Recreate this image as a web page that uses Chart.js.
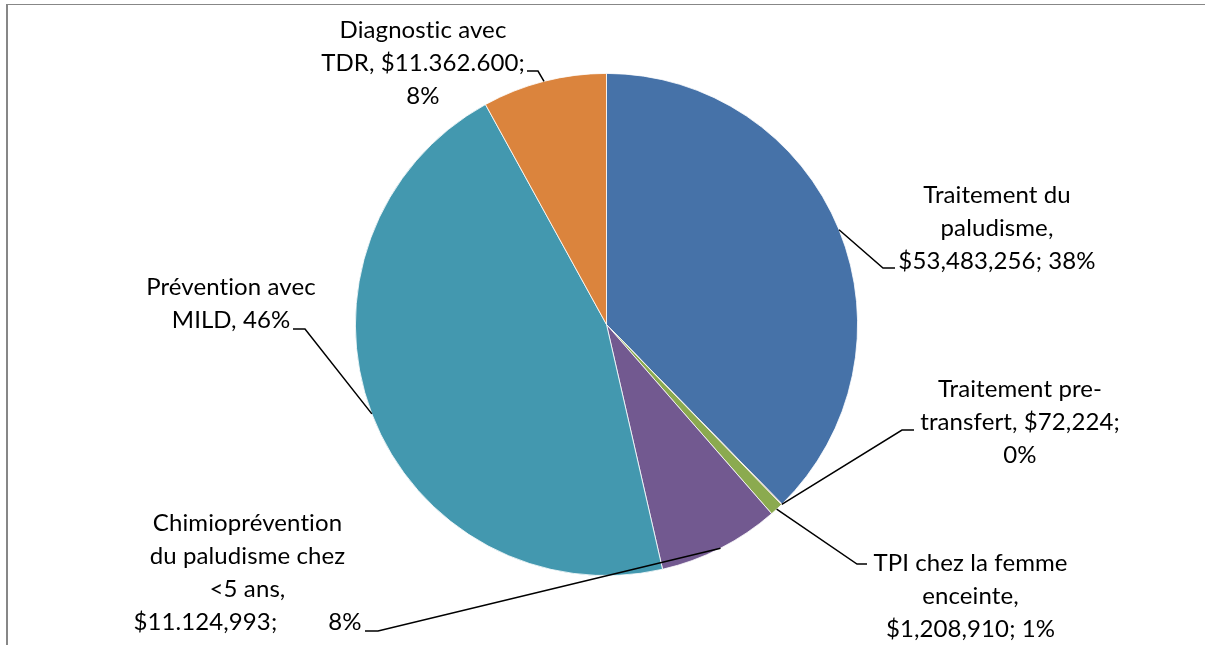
<!DOCTYPE html>
<html lang="fr">
<head>
<meta charset="utf-8">
<title>Répartition des coûts – paludisme</title>
<script src="https://cdn.jsdelivr.net/npm/chart.js@4.4.1/dist/chart.umd.min.js"></script>
<style>
  html, body { margin: 0; padding: 0; background: #ffffff; }
  #wrap { position: relative; width: 1205px; height: 645px; }
  canvas { display: block; }
</style>
</head>
<body>
<div id="wrap"><canvas id="pie" width="1205" height="645"></canvas></div>
<script>
// Cost categories, in drawing order (clockwise from 12 o'clock)
const categories = [
  'Traitement du paludisme',
  'Traitement pre-transfert',
  'TPI chez la femme enceinte',
  'Chimioprévention du paludisme chez <5 ans',
  'Prévention avec MILD',
  'Diagnostic avec TDR'
];

// Amounts in USD
const amounts = [53483256, 72224, 1208910, 11124993, 64700000, 11362600];

// Slice colours
const sliceColors = ['#4672A8', '#AA4643', '#8BAA4F', '#725990', '#4398AF', '#DB843D'];

// Data label text, one array of lines per slice ('\t' splits a line into two spaced parts)
const labelLines = [
  ['Traitement du', 'paludisme,', '$53,483,256; 38%'],
  ['Traitement pre-', 'transfert, $72,224;', '0%'],
  ['TPI chez la femme', 'enceinte,', '$1,208,910; 1%'],
  ['Chimioprévention', 'du paludisme chez', '<5 ans,', '$11.124,993;\t8%'],
  ['Prévention avec', 'MILD, 46%'],
  ['Diagnostic avec', 'TDR, $11.362.600;', '8%']
];

// Label placement: leader elbow, end of the short horizontal tick, text centre x, first baseline
const labelPlacement = [
  { elbow: [883, 268], tick: [895, 268], cx: 997,   y0: 203 },
  { elbow: [902, 430], tick: [914, 430], cx: 1020,  y0: 397 },
  { elbow: [857, 564], tick: [867, 564], cx: 970.5, y0: 571 },
  { elbow: [378, 631], tick: [365, 631], cx: 247.5, y0: 531, gap: 51 },
  { elbow: [305, 329], tick: [293, 329], cx: 231,   y0: 295 },
  { elbow: [538, 71],  tick: [527, 71],  cx: 423,   y0: 38 }
];

const FONT = '24px Lato, "Open Sans", sans-serif';
const LINE_H = 33;

// Thin grey frame along the top and left edges
const framePlugin = {
  id: 'frame',
  beforeDraw(chart) {
    const ctx = chart.ctx;
    ctx.save();
    ctx.fillStyle = '#878787';
    ctx.fillRect(6, 4, 1199, 1);
    ctx.fillRect(6, 4, 2, 641);
    ctx.restore();
  }
};

// Data labels with leader lines attached at the middle of each slice's arc
const leaderLabelPlugin = {
  id: 'leaderLabels',
  afterDatasetsDraw(chart) {
    const ctx = chart.ctx;
    const meta = chart.getDatasetMeta(0);
    ctx.save();
    ctx.font = FONT;
    // keep plain letter forms (no "ti" ligature)
    if ('textRendering' in ctx) ctx.textRendering = 'optimizeSpeed';
    if ('letterSpacing' in ctx) ctx.letterSpacing = '0.1px';
    ctx.fillStyle = '#000000';
    ctx.strokeStyle = '#000000';
    ctx.lineWidth = 1.5;
    ctx.textBaseline = 'alphabetic';
    meta.data.forEach((arc, i) => {
      const p = arc.getProps(['x', 'y', 'startAngle', 'endAngle', 'outerRadius'], true);
      const mid = (p.startAngle + p.endAngle) / 2;
      const ax = p.x + Math.cos(mid) * p.outerRadius;
      const ay = p.y + Math.sin(mid) * p.outerRadius;
      const pl = labelPlacement[i];
      ctx.beginPath();
      ctx.moveTo(ax, ay);
      ctx.lineTo(pl.elbow[0], pl.elbow[1]);
      ctx.lineTo(pl.tick[0], pl.tick[1]);
      ctx.stroke();

      labelLines[i].forEach((line, k) => {
        const y = pl.y0 + k * LINE_H;
        if (line.includes('\t')) {
          const [a, b] = line.split('\t');
          const wa = ctx.measureText(a).width;
          const wb = ctx.measureText(b).width;
          const total = wa + pl.gap + wb;
          const left = pl.cx - total / 2;
          ctx.textAlign = 'left';
          ctx.fillText(a, left, y);
          ctx.fillText(b, left + wa + pl.gap, y);
        } else {
          ctx.textAlign = 'center';
          ctx.fillText(line, pl.cx, y);
        }
      });
    });
    ctx.restore();
  }
};

function build() {
  new Chart(document.getElementById('pie'), {
    type: 'pie',
    data: {
      labels: categories,
      datasets: [{
        data: amounts,
        backgroundColor: sliceColors,
        borderColor: '#ffffff',
        borderWidth: 0.8
      }]
    },
    options: {
      responsive: false,
      animation: false,
      layout: { padding: { left: 8, right: 0, top: 73, bottom: 69 } },
      plugins: {
        legend: { display: false },
        tooltip: { enabled: false }
      }
    },
    plugins: [framePlugin, leaderLabelPlugin]
  });
}

if (document.fonts && document.fonts.load) {
  document.fonts.load(FONT).then(build, build);
} else {
  build();
}
</script>
</body>
</html>
